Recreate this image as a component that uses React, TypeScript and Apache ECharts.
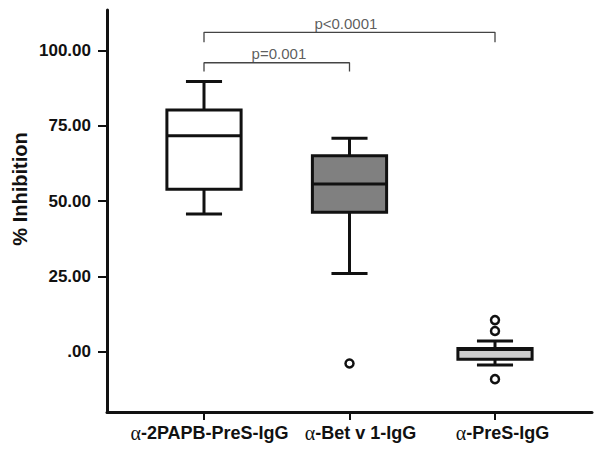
import React, { useEffect, useRef } from "react";
import * as echarts from "echarts";

const categories = ["α-2PAPB-PreS-IgG", "α-Bet v 1-IgG", "α-PreS-IgG"];
const positions = [1, 2, 3];
const boxMin = [45.7, 26.0, -4.4];
const boxQ1 = [53.9, 46.3, -2.5];
const boxMedian = [71.7, 55.7, 0.7];
const boxQ3 = [80.2, 65.0, 1.1];
const boxMax = [89.7, 70.8, 3.6];
const boxFills = ["#ffffff", "#808080", "#cccccc"];
const outlierX = [2, 3, 3, 3];
const outlierY = [-3.9, 10.5, 6.9, -9.1];
const yTicks = [0, 25, 50, 75, 100];
const bracketLabels = ["p=0.001", "p<0.0001"];
const bracketFrom = [1, 1];
const bracketTo = [2, 3];
const bracketTop = [95.9, 106.0];
const bracketFoot = [93.0, 102.7];
const bracketLabelX = [1.515, 1.975];

export default function App() {
  const ref = useRef<HTMLDivElement>(null);
  useEffect(() => {
    if (!ref.current) return;
    const chart = echarts.init(ref.current, undefined, { renderer: "svg" });

    const boxData = positions.map((p, i) => [p, boxMin[i], boxQ1[i], boxMedian[i], boxQ3[i], boxMax[i]]);
    const bracketSeries = bracketLabels.map((_, i) => ({
      type: "line",
      data: [
        [bracketFrom[i], bracketFoot[i]],
        [bracketFrom[i], bracketTop[i]],
        [bracketTo[i], bracketTop[i]],
        [bracketTo[i], bracketFoot[i]],
      ],
      symbol: "none",
      lineStyle: { color: "#444", width: 1.3 },
      z: 1,
    }));

    const alphaStyle = { fontFamily: "Liberation Serif", fontSize: 20, color: "#111" };

    const option: any = {
      animation: false,
      grid: { left: 107, right: 8, top: 10, bottom: 38 },
      xAxis: {
        type: "value",
        min: 1 / 3,
        max: 11 / 3,
        splitLine: { show: false },
        axisLine: { show: true, onZero: false, lineStyle: { color: "#111", width: 3 } },
        axisTick: { show: true, customValues: positions, length: 8, lineStyle: { color: "#111", width: 2 } },
        axisLabel: {
          customValues: positions,
          margin: 11,
          formatter: (v: number) => {
            const idx = Math.round(v) - 1;
            const s = categories[idx] || "";
            return "{a" + idx + "|" + s.charAt(0) + "}{b|" + s.slice(1) + "}";
          },
          rich: {
            a0: { ...alphaStyle, padding: [0, 0, 0, 11] },
            a1: { ...alphaStyle, padding: [0, 0, 0, 22] },
            a2: { ...alphaStyle, padding: [0, 0, 0, 15] },
            b: { fontFamily: "Liberation Sans", fontWeight: "bold", fontSize: 18, color: "#111" },
          },
        },
      },
      yAxis: {
        type: "value",
        min: -20,
        max: 113.4,
        splitLine: { show: false },
        axisLine: { show: true, onZero: false, lineStyle: { color: "#111", width: 3 } },
        axisTick: { show: true, customValues: yTicks, length: 9, lineStyle: { color: "#111", width: 2 } },
        axisLabel: {
          customValues: yTicks,
          margin: 16,
          fontFamily: "Liberation Sans",
          fontWeight: "bold",
          fontSize: 17,
          color: "#111",
          formatter: (v: number) => (v === 0 ? ".00" : v.toFixed(2)),
        },
      },
      graphic: [
        {
          type: "text",
          x: 20,
          y: 189,
          rotation: Math.PI / 2,
          style: {
            text: "% Inhibition",
            font: "bold 20px 'Liberation Sans'",
            fill: "#111",
            align: "center",
            verticalAlign: "middle",
          },
        },
      ],
      series: [
        ...bracketSeries,
        {
          type: "scatter",
          data: bracketLabels.map((t, i) => ({ value: [bracketLabelX[i], bracketTop[i]], name: t })),
          symbolSize: 1,
          itemStyle: { color: "rgba(0,0,0,0)" },
          label: {
            show: true,
            position: "top",
            distance: 1,
            formatter: (p: any) => p.name,
            fontFamily: "Liberation Sans",
            fontSize: 15,
            color: "#333",
          },
          z: 2,
        },
        {
          type: "custom",
          data: boxData,
          z: 3,
          renderItem: (params: any, api: any) => {
            const x = api.value(0);
            const lo = api.coord([x, api.value(1)]);
            const q1 = api.coord([x, api.value(2)]);
            const med = api.coord([x, api.value(3)]);
            const q3 = api.coord([x, api.value(4)]);
            const hi = api.coord([x, api.value(5)]);
            const unit = api.size([1, 0])[0];
            const half = unit * 0.255;
            const capHalf = unit * 0.124;
            const cx = lo[0];
            const stroke = { stroke: "#111", lineWidth: 3 };
            return {
              type: "group",
              children: [
                { type: "line", shape: { x1: cx, y1: q3[1], x2: cx, y2: hi[1] }, style: stroke },
                { type: "line", shape: { x1: cx, y1: q1[1], x2: cx, y2: lo[1] }, style: stroke },
                { type: "line", shape: { x1: cx - capHalf, y1: hi[1], x2: cx + capHalf, y2: hi[1] }, style: stroke },
                { type: "line", shape: { x1: cx - capHalf, y1: lo[1], x2: cx + capHalf, y2: lo[1] }, style: stroke },
                {
                  type: "rect",
                  shape: { x: cx - half, y: q3[1], width: half * 2, height: q1[1] - q3[1] },
                  style: { fill: boxFills[params.dataIndex], stroke: "#111", lineWidth: 3 },
                },
                { type: "line", shape: { x1: cx - half, y1: med[1], x2: cx + half, y2: med[1] }, style: stroke },
              ],
            };
          },
        },
        {
          type: "scatter",
          data: outlierX.map((x, i) => [x, outlierY[i]]),
          symbol: "circle",
          symbolSize: 8,
          itemStyle: { color: "#fff", borderColor: "#111", borderWidth: 2.5, opacity: 1 },
          z: 4,
        },
      ],
    };
    chart.setOption(option);
    return () => chart.dispose();
  }, []);
  return <div ref={ref} style={{ position: "absolute", left: 0, top: 0, width: 600, height: 450 }} />;
}
